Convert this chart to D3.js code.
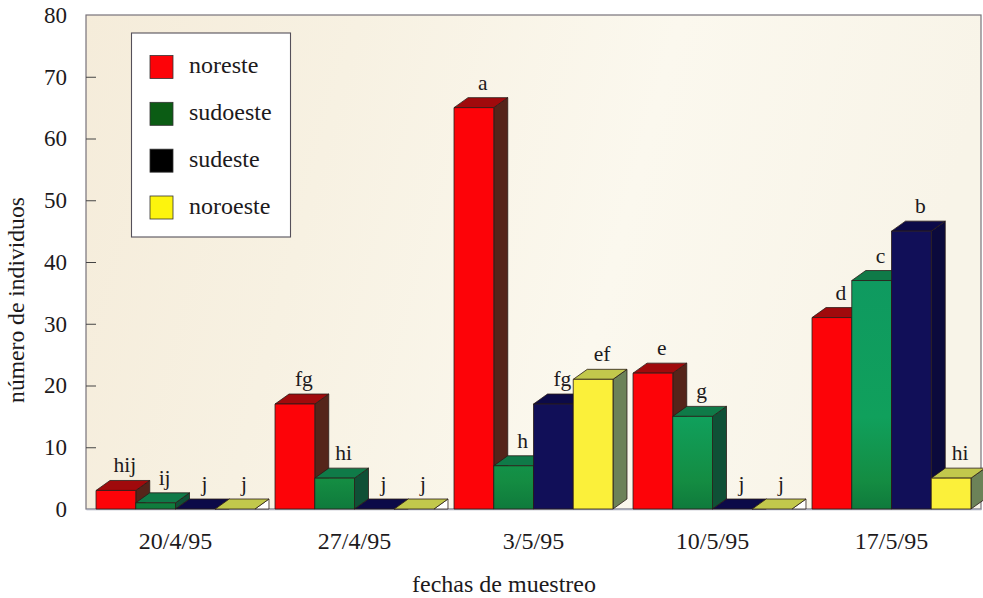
<!DOCTYPE html>
<html><head><meta charset="utf-8">
<script src="https://cdn.jsdelivr.net/npm/d3@7"></script>
<style>html,body{margin:0;padding:0;background:#fff}svg{display:block}text{font-family:"Liberation Serif",serif;fill:#1d1a1c}</style>
</head><body><svg id="c" width="983" height="598"></svg>
<script>
const fechas = ["20/4/95","27/4/95","3/5/95","10/5/95","17/5/95"];
const series = ["noreste","sudoeste","sudeste","noroeste"];
const noreste  = [3,17,65,22,31];
const sudoeste = [1,5,7,15,37];
const sudeste  = [0,0,17,0,45];
const noroeste = [0,0,21,0,5];
const letrasNoreste  = ["hij","fg","a","e","d"];
const letrasSudoeste = ["ij","hi","h","g","c"];
const letrasSudeste  = ["j","j","fg","j","b"];
const letrasNoroeste = ["j","j","ef","j","hi"];
const yTicks = [0,10,20,30,40,50,60,70,80];
const valores = [noreste,sudoeste,sudeste,noroeste];
const letras = [letrasNoreste,letrasSudoeste,letrasSudeste,letrasNoroeste];
const frente = ["#fd0308","url(#verde)","#110f58","#fbf03a"];
const arriba = ["#a00a0c","#0f7a48","#0c0a48","#c2c84c"];
const lado   = ["#55241a","#0f5036","#0b0a3c","#6c8258"];
const leyenda = ["#fd0308","#0b5c14","#000000","#fdf40d"];

const svg = d3.select("#c");
const L=86,R=981,T=15,B=509,DX=14,DY=10;
const x0 = d3.scaleBand().domain(fechas).range([L,R]).paddingInner(0.112).paddingOuter(0.056);
const x1 = d3.scaleBand().domain(series).range([0,x0.bandwidth()]);
const y = d3.scaleLinear().domain([0,80]).range([B,T]);

const defs = svg.append("defs");
const g0 = defs.append("linearGradient").attr("id","bg").attr("x1",0).attr("x2",1).attr("y1",0).attr("y2",0.15);
[[0,"#f5ecda"],[0.3,"#f7f1e2"],[0.65,"#fbf8ee"],[1,"#f8f4e8"]].forEach(s=>g0.append("stop").attr("offset",s[0]).attr("stop-color",s[1]));
const gv = defs.append("linearGradient").attr("id","verde").attr("gradientUnits","userSpaceOnUse").attr("x1",0).attr("x2",0).attr("y1",B).attr("y2",280);
[[0,"#0f7a3c"],[0.12,"#148c42"],[0.4,"#10a05c"],[1,"#0f9a60"]].forEach(s=>gv.append("stop").attr("offset",s[0]).attr("stop-color",s[1]));

svg.append("rect").attr("x",L).attr("y",T).attr("width",R-L).attr("height",B-T).attr("fill","url(#bg)").attr("stroke","#77727a").attr("stroke-width",1.2);

const yAxis = d3.axisLeft(y).tickValues(yTicks).tickSize(-10).tickPadding(19);
const ga = svg.append("g").attr("transform",`translate(${L},0)`).call(yAxis);
ga.select(".domain").remove();
ga.selectAll("line").attr("stroke","#444").attr("stroke-width",1);
ga.selectAll("text").style("font-size","23px").attr("font-family","Liberation Serif");
ga.selectAll(".tick").filter(d=>d===0||d===80).select("line").remove();

const xAxis = d3.axisBottom(x0).tickSize(0).tickPadding(23);
const gx = svg.append("g").attr("transform",`translate(0,${B})`).call(xAxis);
gx.select(".domain").attr("stroke","#a4a8b8").attr("stroke-width",1.6);
gx.selectAll("text").style("font-size","24px").attr("font-family","Liberation Serif");

fechas.forEach((f,i)=>{
  series.forEach((s,k)=>{
    const v = valores[k][i];
    const xl = x0(f)+x1(s), w = x1.bandwidth(), yt = y(v), yb = y(0);
    const g = svg.append("g").attr("stroke","#2a1c18").attr("stroke-width",0.8).attr("stroke-linejoin","round");
    const lineaP = d3.line();
    if(v>0) g.append("path").attr("fill",lado[k]).attr("d",lineaP([[xl+w,yt],[xl+w+DX,yt-DY],[xl+w+DX,yb-DY],[xl+w,yb]])+"Z");
    else g.append("path").attr("fill","#fff").attr("d",lineaP([[xl+w,yb],[xl+w+DX,yb-DY],[xl+w+DX,yb]])+"Z");
    g.append("path").attr("fill",arriba[k]).attr("d",lineaP([[xl,yt],[xl+DX,yt-DY],[xl+w+DX,yt-DY],[xl+w,yt]])+"Z");
    if(v>0) g.append("rect").attr("x",xl).attr("y",yt).attr("width",w).attr("height",yb-yt).attr("fill",frente[k]);
  });
});
fechas.forEach((f,i)=>{
  series.forEach((s,k)=>{
    svg.append("text").attr("x",x0(f)+x1(s)+x1.bandwidth()/2+DX/2+2).attr("y",y(valores[k][i])-DY-8).attr("text-anchor","middle").style("font-size","21.5px").text(letras[k][i]);
  });
});

const lg = svg.append("g");
lg.append("rect").attr("x",131.5).attr("y",33).attr("width",159).attr("height",204).attr("fill","#fff").attr("stroke","#55505a").attr("stroke-width",1.1);
const ly = d3.scalePoint().domain(series).range([67,207.5]);
series.forEach((s,k)=>{
  lg.append("rect").attr("x",150).attr("y",ly(s)-11.5).attr("width",23).attr("height",23).attr("fill",leyenda[k]).attr("stroke","#333").attr("stroke-width",0.8);
  lg.append("text").attr("x",189).attr("y",ly(s)+6).style("font-size","24px").text(s);
});

svg.append("text").attr("x",504).attr("y",592).attr("text-anchor","middle").style("font-size","24px").text("fechas de muestreo");
svg.append("text").attr("transform","translate(24,300) rotate(-90)").attr("text-anchor","middle").style("font-size","23.6px").text("número de individuos");
</script></body></html>
